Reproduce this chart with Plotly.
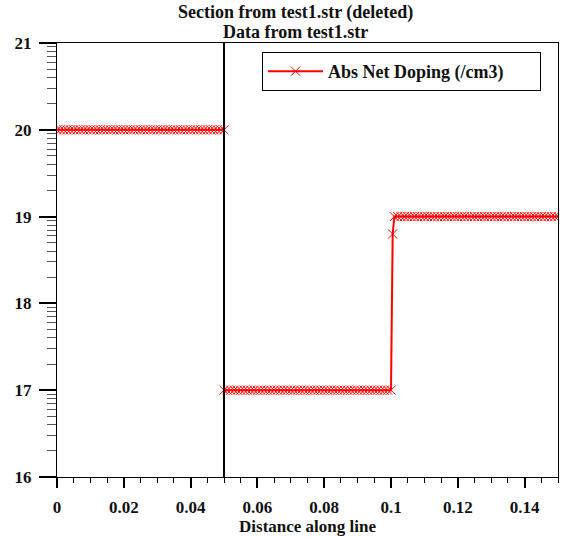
import math
import plotly.graph_objects as go

# ---- data (distance along line, log10 abs net doping) ----
distance = [
    0.000, 0.001, 0.002, 0.003, 0.004, 0.005, 0.006, 0.007, 0.008, 0.009,
    0.010, 0.011, 0.012, 0.013, 0.014, 0.015, 0.016, 0.017, 0.018, 0.019,
    0.020, 0.021, 0.022, 0.023, 0.024, 0.025, 0.026, 0.027, 0.028, 0.029,
    0.030, 0.031, 0.032, 0.033, 0.034, 0.035, 0.036, 0.037, 0.038, 0.039,
    0.040, 0.041, 0.042, 0.043, 0.044, 0.045, 0.046, 0.047, 0.048, 0.049,
    0.050,
    0.050, 0.051, 0.052, 0.053, 0.054, 0.055, 0.056, 0.057, 0.058, 0.059,
    0.060, 0.061, 0.062, 0.063, 0.064, 0.065, 0.066, 0.067, 0.068, 0.069,
    0.070, 0.071, 0.072, 0.073, 0.074, 0.075, 0.076, 0.077, 0.078, 0.079,
    0.080, 0.081, 0.082, 0.083, 0.084, 0.085, 0.086, 0.087, 0.088, 0.089,
    0.090, 0.091, 0.092, 0.093, 0.094, 0.095, 0.096, 0.097, 0.098, 0.099,
    0.100,
    0.1005,
    0.101, 0.102, 0.103, 0.104, 0.105, 0.106, 0.107, 0.108, 0.109,
    0.110, 0.111, 0.112, 0.113, 0.114, 0.115, 0.116, 0.117, 0.118, 0.119,
    0.120, 0.121, 0.122, 0.123, 0.124, 0.125, 0.126, 0.127, 0.128, 0.129,
    0.130, 0.131, 0.132, 0.133, 0.134, 0.135, 0.136, 0.137, 0.138, 0.139,
    0.140, 0.141, 0.142, 0.143, 0.144, 0.145, 0.146, 0.147, 0.148, 0.149,
    0.150,
]
abs_net_doping_log = [
    20, 20, 20, 20, 20, 20, 20, 20, 20, 20,
    20, 20, 20, 20, 20, 20, 20, 20, 20, 20,
    20, 20, 20, 20, 20, 20, 20, 20, 20, 20,
    20, 20, 20, 20, 20, 20, 20, 20, 20, 20,
    20, 20, 20, 20, 20, 20, 20, 20, 20, 20,
    20,
    17, 17, 17, 17, 17, 17, 17, 17, 17, 17,
    17, 17, 17, 17, 17, 17, 17, 17, 17, 17,
    17, 17, 17, 17, 17, 17, 17, 17, 17, 17,
    17, 17, 17, 17, 17, 17, 17, 17, 17, 17,
    17, 17, 17, 17, 17, 17, 17, 17, 17, 17,
    17,
    18.8,
    19, 19, 19, 19, 19, 19, 19, 19, 19,
    19, 19, 19, 19, 19, 19, 19, 19, 19, 19,
    19, 19, 19, 19, 19, 19, 19, 19, 19, 19,
    19, 19, 19, 19, 19, 19, 19, 19, 19, 19,
    19, 19, 19, 19, 19, 19, 19, 19, 19, 19,
    19,
]
interface_x = 0.05
series_name = "Abs Net Doping (/cm3)"
title_lines = ["Section from test1.str (deleted)", "Data from test1.str"]
x_title = "Distance along line"
x_range = [0, 0.15]
y_range = [16, 21]
y_major = [16, 17, 18, 19, 20, 21]
y_minor = [d + math.log10(k) for d in y_major[:-1] for k in range(2, 10)]

FONT = "'Liberation Serif', 'Times New Roman', Times, serif"
title_font = dict(family=FONT, size=18, color="#111111", weight="bold")
legend_font = dict(family=FONT, size=18, color="#111111", weight="bold")
tick_font = dict(family=FONT, size=17, color="#111111", weight="bold")
axis_title_font = dict(family=FONT, size=17, color="#111111", weight="bold")

W, H = 561, 537
L, R, T, B = 57, 3, 43, 60
PW, PH = W - L - R, H - T - B

fig = go.Figure()
fig.add_trace(go.Scatter(
    x=distance, y=abs_net_doping_log, name=series_name + "\u00a0" * 7,
    mode="lines+markers",
    line=dict(color="#ff0000", width=2),
    marker=dict(symbol="x-thin", size=9, line=dict(color="#ff0000", width=1), color="#ff0000"),
    showlegend=True,
))

fig.add_vline(x=interface_x, line=dict(color="black", width=2), layer="above")

for txt, ypx in zip(title_lines, [13, 32]):
    fig.add_annotation(text=txt, xref="paper", yref="paper",
                       x=(295 - L) / PW, y=(H - B - ypx) / PH,
                       xanchor="center", yanchor="middle", showarrow=False, font=title_font)

fig.update_layout(
    width=W, height=H,
    margin=dict(l=L, r=R, t=T, b=B),
    paper_bgcolor="white", plot_bgcolor="white",
    showlegend=True,
    legend=dict(x=(262 - L) / PW, y=(H - B - 52) / PH, xanchor="left", yanchor="top",
                bordercolor="black", borderwidth=1, bgcolor="white",
                font=legend_font, itemwidth=55, tracegroupgap=0),
    xaxis=dict(range=x_range, dtick=0.02, tick0=0, showgrid=False, zeroline=False,
               showline=True, linecolor="black", linewidth=1, mirror=True,
               ticks="outside", ticklen=10, tickwidth=2, tickcolor="black",
               tickfont=tick_font, ticklabelstandoff=5,
               minor=dict(dtick=0.005, tick0=0, ticks="outside", ticklen=5, tickwidth=1,
                          tickcolor="black", showgrid=False),
               title=dict(text=x_title, font=axis_title_font, standoff=0)),
    yaxis=dict(range=y_range, tickmode="array", tickvals=y_major, ticktext=[str(v) for v in y_major],
               showgrid=False, zeroline=False,
               showline=True, linecolor="black", linewidth=1, mirror=True,
               ticks="outside", ticklen=17, tickwidth=2, tickcolor="black",
               tickfont=tick_font, ticklabelstandoff=4,
               minor=dict(tickmode="array", tickvals=y_minor, ticks="outside", ticklen=9,
                          tickwidth=1, tickcolor="#555555", showgrid=False)),
)

fig.write_html("out.html", config={"displayModeBar": False},
               post_script="document.body.style.margin='0';document.body.style.overflow='hidden';")
